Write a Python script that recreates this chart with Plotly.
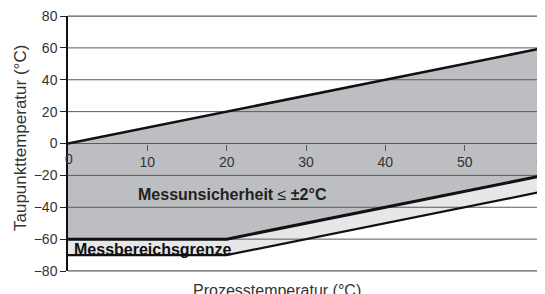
import plotly.graph_objects as go

# data
x_points = [0, 20, 60]
upper_limit = [0, 20, 60]        # dew point = process temperature
accuracy_limit = [-60, -60, -20]  # lower limit of ±2°C accuracy region
range_limit = [-70, -70, -30]     # measuring range limit
x_ticks = [0, 10, 20, 30, 40, 50, 60]
y_ticks = [-80, -60, -40, -20, 0, 20, 40, 60, 80]

DARK = "#bdbec1"
LIGHT = "#e6e7e8"
GRID = "#5a5a5a"
FONT = "Liberation Sans, Arial, sans-serif"

fig = go.Figure()

# dark region
fig.add_trace(go.Scatter(
    x=x_points + x_points[::-1], y=upper_limit + accuracy_limit[::-1],
    fill="toself", fillcolor=DARK, line=dict(width=0), mode="lines",
    hoverinfo="skip", showlegend=False))
# light band
fig.add_trace(go.Scatter(
    x=x_points + x_points[::-1], y=accuracy_limit + range_limit[::-1],
    fill="toself", fillcolor=LIGHT, line=dict(width=0), mode="lines",
    hoverinfo="skip", showlegend=False))

# gridlines above fills
gx, gy = [], []
for v in y_ticks:
    gx += [x_ticks[0], x_ticks[-1], None]
    gy += [v, v, None]
fig.add_trace(go.Scatter(x=gx, y=gy, mode="lines",
                         line=dict(color=GRID, width=1),
                         hoverinfo="skip", showlegend=False))

# boundary lines
for ys, w in [(upper_limit, 2.5), (accuracy_limit, 3), (range_limit, 2.2)]:
    fig.add_trace(go.Scatter(x=x_points, y=ys, mode="lines",
                             line=dict(color="#111111", width=w),
                             hoverinfo="skip", showlegend=False))

# edge gridlines (top and bottom of the plot area), unclipped
for yp in (0, 1):
    fig.add_shape(type="line", xref="paper", yref="paper", x0=0, x1=1,
                  y0=yp, y1=yp, line=dict(color=GRID, width=1), layer="above")

fig.update_layout(
    width=537, height=286,
    margin=dict(l=60, r=1, t=8, b=23),
    paper_bgcolor="white", plot_bgcolor="white",
    font=dict(family=FONT, size=14, color="#333333"),
    xaxis=dict(range=[0, 60], tickvals=x_ticks[1:], ticks="outside",
               ticklen=6, tickcolor="#555555", tickwidth=1,
               showgrid=False, zeroline=False, showline=False,
               anchor="free", position=0.5, automargin=False,
               ticklabeloverflow="allow",
               tickfont=dict(size=14, color="#333333")),
    yaxis=dict(range=[-80, 80], tickvals=y_ticks, ticks="outside",
               ticklen=6, tickcolor="#222222", tickwidth=1,
               showgrid=False,
               zeroline=False, showline=True, linecolor="#111111",
               linewidth=1.5, layer="above traces", automargin=False,
               ticklabeloverflow="allow",
               tickfont=dict(size=14, color="#333333")),
)

# "0" label at origin
fig.add_annotation(x=0, y=0, xref="x", yref="y", text="0", showarrow=False,
                   xanchor="center", yanchor="top", yshift=-5, xshift=1,
                   font=dict(size=14, color="#333333"))

fig.add_annotation(x=8.6, y=-31.8, xref="x", yref="y",
                   text="<b>Messunsicherheit</b> ≤ <b>±2°C</b>",
                   showarrow=False, xanchor="left", yanchor="middle",
                   font=dict(size=16, color="#222222"))
fig.add_annotation(x=0.5, y=-66.5, xref="x", yref="y",
                   text="<b>Messbereichsgrenze</b>",
                   showarrow=False, xanchor="left", yanchor="middle",
                   font=dict(size=16, color="#111111"))

fig.add_annotation(x=(277 - 68) / 476, y=-(290 - 271) / 255,
                   xref="paper", yref="paper", text="Prozesstemperatur (°C)",
                   showarrow=False, xanchor="center", yanchor="middle",
                   font=dict(size=16, color="#333333"))
fig.add_annotation(x=(20 - 68) / 476, y=(271 - 138) / 255,
                   xref="paper", yref="paper", text="Taupunkttemperatur (°C)",
                   textangle=-90, showarrow=False, xanchor="center",
                   yanchor="middle", font=dict(size=17, color="#333333"))

fig.write_html("out.html")
